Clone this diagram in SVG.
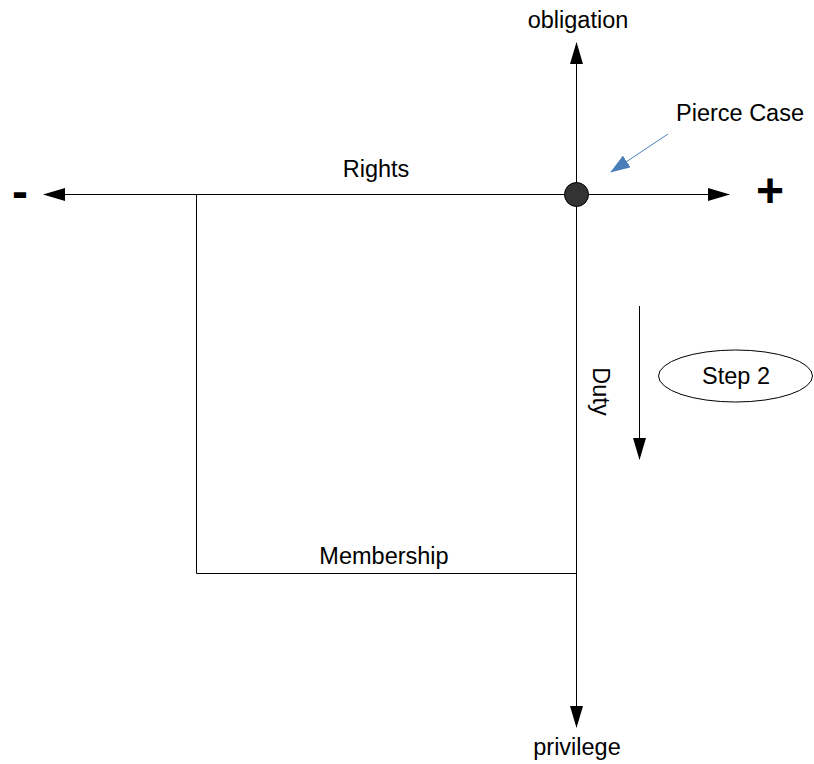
<svg xmlns="http://www.w3.org/2000/svg" width="814" height="764" viewBox="0 0 814 764">
  <style>
    .lbl { font-family: "Liberation Sans", Arial, sans-serif; font-size: 23.5px; fill: #000; text-anchor: middle; }
    .sign { font-family: "Liberation Sans", Arial, sans-serif; font-size: 48px; font-weight: bold; fill: #000; text-anchor: middle; }
    .ln { stroke: #000; stroke-width: 1; fill: none; }
    .blue { stroke: #4a7ebb; stroke-width: 1; fill: none; }
  </style>
  <defs>
    <marker id="arrow" viewBox="0 0 22 13" refX="21" refY="6.5" markerWidth="22" markerHeight="13" markerUnits="userSpaceOnUse" orient="auto-start-reverse">
      <path d="M0,0 L22,6.5 L0,13 z" fill="#000"/>
    </marker>
    <marker id="arrowBlue" viewBox="0 0 20 14" refX="19" refY="7" markerWidth="20" markerHeight="14" markerUnits="userSpaceOnUse" orient="auto">
      <path d="M0,0 L20,7 L0,14 z" fill="#4a7ebb"/>
    </marker>
  </defs>

  <rect width="814" height="764" fill="#fff"/>

  <!-- connectors -->
  <g id="connectors">
    <!-- Rights axis (horizontal) -->
    <line class="ln" x1="44" y1="194.5" x2="729" y2="194.5" marker-start="url(#arrow)" marker-end="url(#arrow)"/>
    <!-- obligation / privilege axis (vertical) -->
    <line class="ln" x1="576.5" y1="43" x2="576.5" y2="727" marker-start="url(#arrow)" marker-end="url(#arrow)"/>
    <!-- Membership bracket -->
    <polyline class="ln" points="196.5,194.5 196.5,573.5 576.5,573.5"/>
    <!-- Duty direction -->
    <line class="ln" x1="639.5" y1="306" x2="639.5" y2="459" marker-end="url(#arrow)"/>
    <!-- Pierce Case pointer -->
    <line class="blue" x1="668" y1="134" x2="611" y2="172" marker-end="url(#arrowBlue)"/>
  </g>

  <!-- nodes -->
  <g id="origin">
    <circle cx="576.5" cy="194.5" r="12" fill="#333" stroke="#000" stroke-width="1"/>
  </g>
  <g id="obligation"><text class="lbl" x="578" y="28">obligation</text></g>
  <g id="privilege"><text class="lbl" x="577" y="755">privilege</text></g>
  <g id="pierce-case"><text class="lbl" x="740" y="121">Pierce Case</text></g>
  <g id="rights"><text class="lbl" x="376" y="177">Rights</text></g>
  <g id="membership"><text class="lbl" x="384" y="564">Membership</text></g>
  <g id="duty"><text class="lbl" x="0" y="0" transform="translate(593,391.5) rotate(90)">Duty</text></g>
  <g id="step-2">
    <ellipse cx="735.5" cy="376" rx="77" ry="26" fill="#fff" stroke="#000" stroke-width="1"/>
    <text class="lbl" x="736" y="384">Step 2</text>
  </g>
  <g id="minus"><text class="sign" x="20" y="208">-</text></g>
  <g id="plus"><text class="sign" x="770" y="207">+</text></g>
</svg>
